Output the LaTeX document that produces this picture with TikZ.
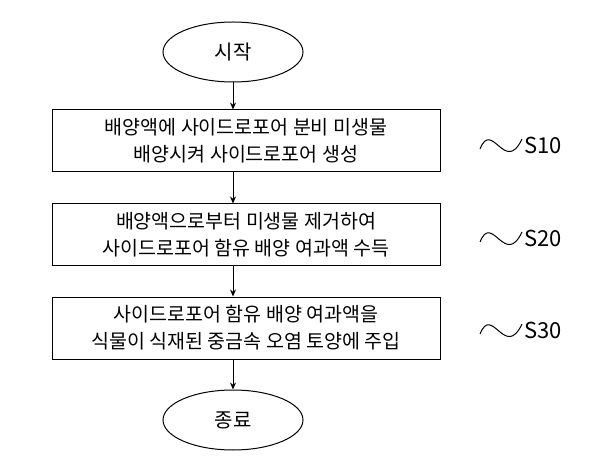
\documentclass[tikz,border=0pt]{standalone}
\usepackage{fontspec}
\newfontfamily\kr{Noto Sans CJK KR}
\usetikzlibrary{shapes.geometric,arrows.meta}
\tikzset{every picture/.style={line width=1pt}}
\tikzset{
  stepbox/.style={draw, minimum width=388pt, minimum height=62pt, align=center, font=\kr\fontsize{19.5}{27}\selectfont, inner sep=2pt},
  term/.style={draw, ellipse, minimum width=140pt, minimum height=60pt, font=\kr\fontsize{20}{24}\selectfont},
  lbl/.style={anchor=west, font=\kr\fontsize{22}{24}\selectfont, inner sep=0pt},
  flow/.style={-{Stealth[length=7pt,width=6pt]}}
}
\begin{document}
\begin{tikzpicture}[x=1pt,y=1pt,yscale=-1]
    \useasboundingbox (0,0) rectangle (600,473);
    % terminals
    \node [term] (start) at (233,52) {시작};
    \node [term] (stop) at (233,420) {종료};
    % steps
    \node [stepbox] (s10) at (246,141) {배양액에 사이드로포어 분비 미생물\\배양시켜 사이드로포어 생성};
    \node [stepbox] (s20) at (246,235) {배양액으로부터 미생물 제거하여\\사이드로포어 함유 배양 여과액 수득};
    \node [stepbox] (s30) at (246,328) {사이드로포어 함유 배양 여과액을\\식물이 식재된 중금속 오염 토양에 주입};
    % connectors
    \draw [flow] (start) -- (start |- s10.north);
    \draw [flow] (s10.south -| start) -- (s20.north -| start);
    \draw [flow] (s20.south -| start) -- (s30.north -| start);
    \draw [flow] (s30.south -| start) -- (stop);
    % step labels
    \foreach \n/\y in {S10/145, S20/238, S30/330} {
      \draw (480,\y+4) .. controls (492,\y-26) and (505,\y+30) .. (522,\y-6);
      \node [lbl] (l\n) at (524,\y) {\n};
    }
\end{tikzpicture}
\end{document}
